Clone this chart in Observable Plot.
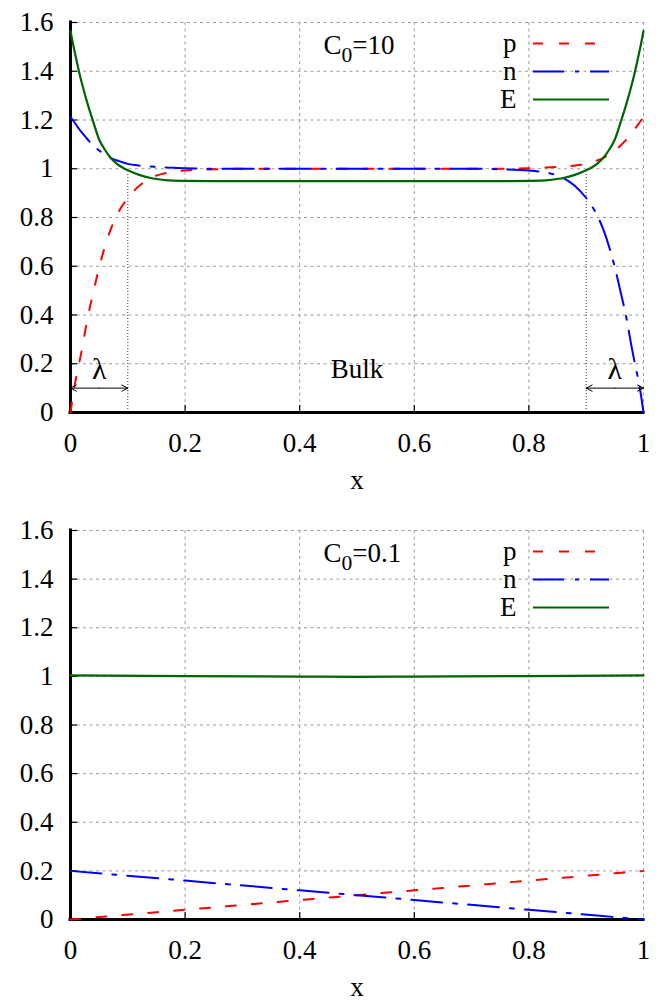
<!DOCTYPE html>
<html><head><meta charset="utf-8">
<script src="https://cdn.jsdelivr.net/npm/d3@7"></script>
<script src="https://cdn.jsdelivr.net/npm/@observablehq/plot@0.6"></script>
<style>body{margin:0;background:#fff} svg{display:block} svg text{font-family:'Liberation Serif',serif !important}</style>
</head><body><div id="chart"></div>
<script>
// ---------- data ----------
const xTop = [0, 0.005, 0.01, 0.015, 0.02, 0.03, 0.04, 0.05, 0.06, 0.07, 0.08, 0.09, 0.1, 0.12, 0.14, 0.16, 0.18, 0.2,
  0.25, 0.3, 0.4, 0.5, 0.6, 0.7, 0.75,
  0.8, 0.82, 0.84, 0.86, 0.88, 0.9, 0.91, 0.92, 0.93, 0.94, 0.95, 0.96, 0.97, 0.98, 0.985, 0.99, 0.995, 1];
const pTop = [0, 0.08, 0.145, 0.20, 0.26, 0.39, 0.495, 0.595, 0.68, 0.75, 0.805, 0.847, 0.88, 0.93, 0.962, 0.979, 0.988, 0.993,
  0.998, 1.0, 1.0, 1.0, 1.0, 1.0, 1.0,
  1.002, 1.004, 1.006, 1.009, 1.013, 1.02, 1.027, 1.035, 1.045, 1.058, 1.075, 1.095, 1.12, 1.148, 1.163, 1.18, 1.196, 1.212];
const nTop = [1.212, 1.196, 1.18, 1.163, 1.148, 1.12, 1.095, 1.075, 1.058, 1.045, 1.035, 1.027, 1.02, 1.013, 1.009, 1.006, 1.004, 1.002,
  1.0, 1.0, 1.0, 1.0, 1.0, 1.0, 0.998,
  0.993, 0.988, 0.979, 0.962, 0.93, 0.88, 0.847, 0.805, 0.75, 0.68, 0.595, 0.495, 0.39, 0.26, 0.20, 0.145, 0.08, 0];
const ETop = [1.565, 1.505, 1.45, 1.397, 1.35, 1.265, 1.19, 1.12, 1.078, 1.045, 1.022, 1.006, 0.994, 0.975, 0.962, 0.955, 0.951, 0.95,
  0.949, 0.949, 0.949, 0.949, 0.949, 0.949, 0.949,
  0.95, 0.951, 0.955, 0.962, 0.975, 0.994, 1.006, 1.022, 1.045, 1.078, 1.12, 1.19, 1.265, 1.35, 1.397, 1.45, 1.505, 1.565];

const xBot = [0, 0.2, 0.4, 0.5, 0.6, 0.8, 1];
const pBot = [0, 0.04, 0.08, 0.1, 0.12, 0.16, 0.2];
const nBot = [0.2, 0.16, 0.12, 0.1, 0.08, 0.04, 0];
const EBot = [1.004, 1.001, 0.999, 0.998, 0.999, 1.001, 1.004];

const seriesNames = ["p", "n", "E"];
const xTicks = [0, 0.2, 0.4, 0.6, 0.8, 1];
const xTickLabels = ["0", "0.2", "0.4", "0.6", "0.8", "1"];
const yTicks = [0, 0.2, 0.4, 0.6, 0.8, 1, 1.2, 1.4, 1.6];
const yTickLabels = ["0", "0.2", "0.4", "0.6", "0.8", "1", "1.2", "1.4", "1.6"];
const panelLabels = ["C0=10", "C0=0.1"];
const axisTitle = "x";
const lambdaX = [0.1, 0.9];          // bulk / boundary-layer limits
const lambdaLabelX = [0.05, 0.95];
const arrowFrom = [0.05, 0.05, 0.95, 0.95];
const arrowTo = [0, 0.1, 0.9, 1];
const bulkLabel = "Bulk";

// ---------- styles ----------
const styles = {
  p: {stroke: "#ff0000", strokeDasharray: "10,16", strokeWidth: 2},
  n: {stroke: "#0000ff", strokeDasharray: "31,11,4,11", strokeWidth: 2},
  E: {stroke: "#006400", strokeDasharray: null, strokeWidth: 2.2}
};
const FONT = "'Liberation Serif', serif";
const FS = 27;
const txt = {fontFamily: FONT, fontSize: FS, fill: "black"};

function panel({xs, series, label, height, marginBottom, annotate}) {
  const W = 663, mL = 70, mR = 20, mT = 22;
  const plotH = height - mT - marginBottom;
  const plotW = W - mL - mR;
  const yPx = 1.6 / plotH, xPx = 1 / plotW;   // data units per pixel
  const gridStyle = {stroke: "#9a9a9a", strokeWidth: 1, strokeDasharray: "3,3.5"};

  const marks = [
    Plot.ruleY(yTicks.filter(d => d > 0), gridStyle),
    Plot.ruleX(xTicks.filter(d => d > 0), gridStyle),
  ];
  if (annotate) {
    marks.push(Plot.ruleX(lambdaX, {y1: 0, y2: 0.985, stroke: "#333", strokeWidth: 1, strokeDasharray: "1,2"}));
  }
  // inward tick marks
  marks.push(Plot.ruleX(xTicks.filter(d => d > 0 && d < 1), {y1: 0, y2: 7 * yPx, stroke: "black", strokeWidth: 1.2}));
  marks.push(Plot.ruleY(yTicks.filter(d => d > 0), {x1: 0, x2: 7 * xPx, stroke: "black", strokeWidth: 1.2}));
  marks.push(Plot.axisX({ticks: xTicks, tickSize: 0, tickPadding: 20, label: null, ...txt,
    tickFormat: d => xTickLabels[xTicks.indexOf(d)]}));
  marks.push(Plot.axisY({ticks: yTicks, tickSize: 0, tickPadding: 17, label: null, ...txt,
    tickFormat: d => yTickLabels[yTicks.indexOf(d)]}));

  // border (left + bottom), drawn under the curves as gnuplot does
  marks.push(Plot.ruleY([0], {stroke: "black", strokeWidth: 3, strokeLinecap: "square"}));
  marks.push(Plot.ruleX([0], {stroke: "black", strokeWidth: 3, strokeLinecap: "square"}));

  seriesNames.forEach((s, k) => {
    const data = xs.map((x, i) => ({x, y: series[k][i]}));
    marks.push(Plot.line(data, {x: "x", y: "y", curve: "monotone-x", ...styles[s]}));
  });

  // legend
  seriesNames.forEach((s, i) => {
    const yy = 1.6 - (21 + 28 * i) * yPx;
    marks.push(Plot.text([s], {x: (516 - mL) * xPx, y: yy, text: d => d, textAnchor: "end", ...txt}));
    marks.push(Plot.ruleY([yy], {x1: (533 - mL) * xPx, x2: (609 - mL) * xPx, ...styles[s]}));
  });

  // panel label
  marks.push(Plot.text([label], {x: (323 - mL) * xPx, y: 1.6 - 23 * yPx, text: d => d, textAnchor: "start", ...txt}));

  if (annotate) {
    const arrows = arrowFrom.map((a, i) => ({x1: a, x2: arrowTo[i], y: 0.1}));
    marks.push(Plot.arrow(arrows, {x1: "x1", x2: "x2", y1: "y", y2: "y", stroke: "black", strokeWidth: 1, headLength: 10, headAngle: 55}));
    marks.push(Plot.text(lambdaLabelX, {x: d => d, y: 0.175, text: () => "λ", ...txt, fontSize: 30}));
    marks.push(Plot.text([bulkLabel], {x: 0.5, y: 0.175, text: d => d, ...txt}));
  }

  // x-axis title
  marks.push(Plot.text([axisTitle], {frameAnchor: "bottom", dy: 76, text: d => d, ...txt}));

  const svg = Plot.plot({
    width: W, height,
    marginLeft: mL, marginRight: mR, marginTop: mT, marginBottom,
    x: {domain: [0, 1]},
    y: {domain: [0, 1.6]},
    style: {fontFamily: FONT, fontSize: FS + "px", color: "black", background: "white", overflow: "visible"},
    marks
  });

  // subscript in panel label
  d3.select(svg).selectAll("text").filter(function () { return this.textContent === label; })
    .each(function () {
      const t = d3.select(this);
      t.text(null);
      t.append("tspan").text(label.slice(0, 1));
      t.append("tspan").attr("dy", 8).attr("font-size", "0.8em").text(label.slice(1, 2));
      t.append("tspan").attr("dy", -8).text(label.slice(2));
    });
  return svg;
}

const chart = document.getElementById("chart");
chart.append(panel({xs: xTop, series: [pTop, nTop, ETop], label: panelLabels[0], height: 508, marginBottom: 96, annotate: true}));
chart.append(panel({xs: xBot, series: [pBot, nBot, EBot], label: panelLabels[1], height: 496, marginBottom: 85, annotate: false}));
</script>
</body></html>
